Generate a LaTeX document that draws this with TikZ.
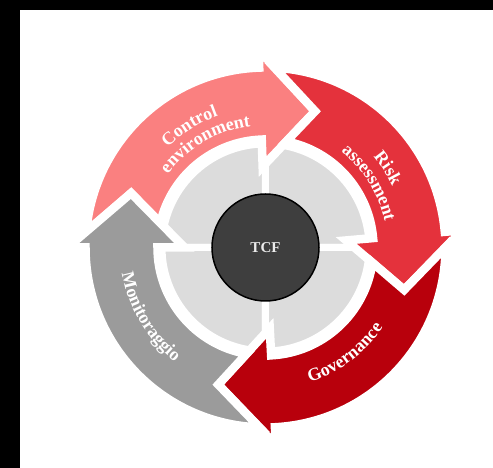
\documentclass[tikz,border=0pt]{standalone}
\usepackage{fontspec}
\setmainfont{Liberation Serif}
\usepackage{xcolor}
\usepackage{tikz}
\usetikzlibrary{decorations.text}
\definecolor{ctrlColor}{RGB}{250,128,128}
\definecolor{riskColor}{RGB}{228,50,60}
\definecolor{govColor}{RGB}{184,0,12}
\definecolor{monColor}{RGB}{155,155,155}
\definecolor{quadColor}{RGB}{220,220,220}
\definecolor{hubColor}{RGB}{62,62,62}
\newcommand{\labelfont}{\bfseries\fontsize{18}{18}\selectfont}
\tikzset{
    quadrant/.style={
        fill=quadColor,
        draw=white,
        line width=7pt
    },
    cyclearrow/.style={
        draw=white,
        line width=8.5pt,
        line join=miter
    },
    curvedlabel/.style={
        decorate,
        decoration={text along path, text align=center, text color=white,
            text={|\labelfont|#1}}
    },
    hub/.style={
        circle,
        draw=black,
        line width=1.5pt,
        fill=hubColor,
        minimum size=107pt,
        inner sep=0pt,
        text=gray!15,
        font=\bfseries\fontsize{15}{15}\selectfont
    }
}

\begin{document}
\begin{tikzpicture}
    % frame
    \fill[black] (-265.5pt,-220.5pt) rectangle (227.5pt,247.5pt);
    \fill[white] (-245.5pt,-220.5pt) rectangle (227.5pt,237.5pt);

    \foreach \q in {0,90,180,270}
        \path[quadrant] (0,0) -- (\q:103.5pt) arc[start angle=\q, end angle=\q+90, radius=103.5pt] -- cycle;

    % arrows: tail angle / head angle
    \foreach \col/\a/\b in {ctrlColor/180/92, riskColor/92/5, govColor/5/-87, monColor/-87/-180}
        \path[cyclearrow, fill=\col] ({\a-4.9}:180pt) arc[start angle={\a-4.9}, end angle=\b, radius=180pt]
            -- (\b:198pt) -- ({\b-22}:145pt) -- (\b:81pt) -- (\b:108pt)
            arc[start angle=\b, end angle={\a-13.1}, radius=108pt] -- ({\a-22}:145pt) -- cycle;

    \node[hub] (tcf) at (0,0) {TCF};

    % labels
    \path[curvedlabel=Control] (162:140pt) arc[start angle=162, end angle=82, radius=140pt];
    \path[curvedlabel=environment] (160:122pt) arc[start angle=160, end angle=80, radius=122pt];
    \path[curvedlabel=Risk] (73:141pt) arc[start angle=73, end angle=-7, radius=141pt];
    \path[curvedlabel=assessment] (72:122pt) arc[start angle=72, end angle=-8, radius=122pt];
    \path[curvedlabel=Governance] (-93:142pt) arc[start angle=-93, end angle=-13, radius=142pt];
    \path[curvedlabel=Monitoraggio] (171:146pt) arc[start angle=171, end angle=251, radius=146pt];
\end{tikzpicture}
\end{document}
